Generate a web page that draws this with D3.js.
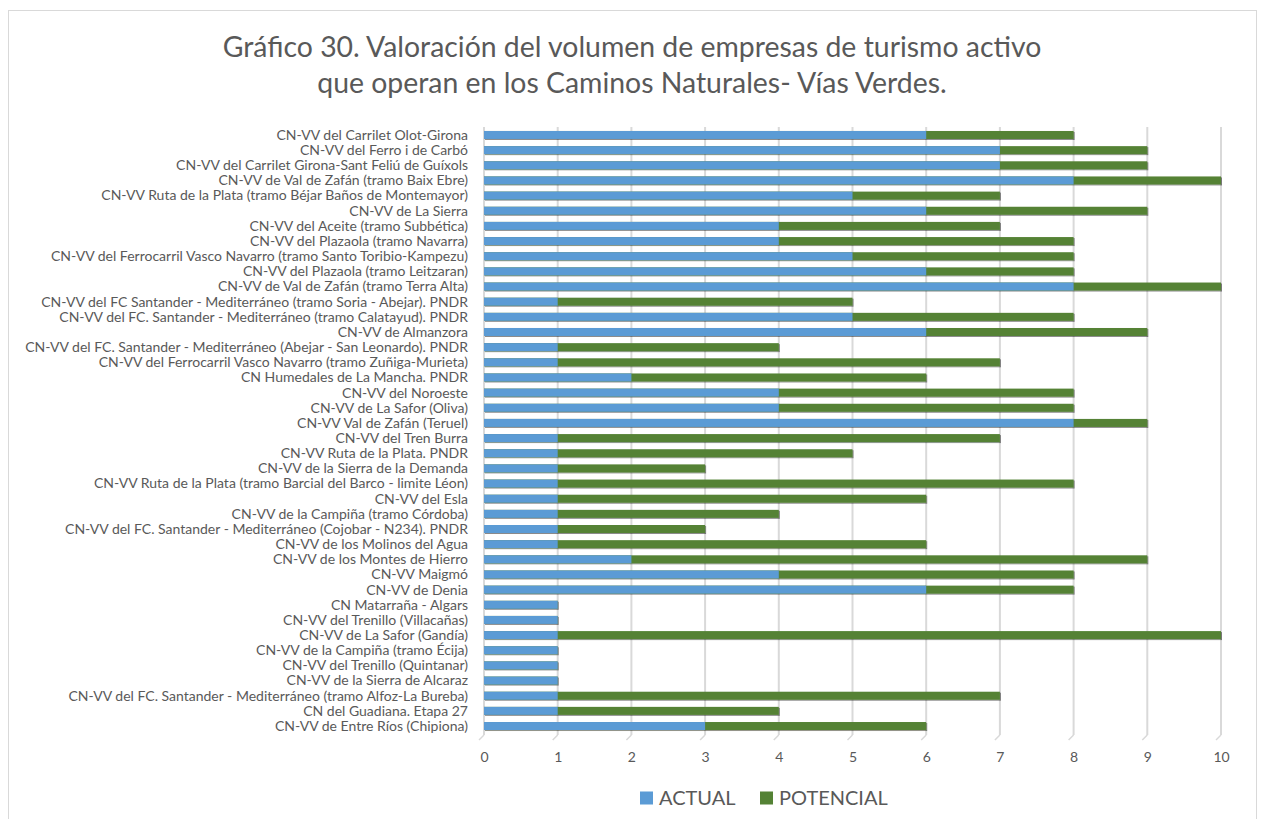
<!DOCTYPE html>
<html>
<head>
<meta charset="utf-8">
<script src="https://cdn.jsdelivr.net/npm/d3@7"></script>
<style>
  body { margin: 0; background: #fff; }
  svg text { font-family: Lato, "Open Sans", sans-serif; fill: #595959; }
</style>
</head>
<body>
<div class="plot"></div>
<script>
/* data */
const caminos = [
  "CN-VV del Carrilet Olot-Girona",
  "CN-VV del Ferro i de Carbó",
  "CN-VV del Carrilet Girona-Sant Feliú de Guíxols",
  "CN-VV de Val de Zafán (tramo Baix Ebre)",
  "CN-VV Ruta de la Plata (tramo Béjar Baños de Montemayor)",
  "CN-VV de La Sierra",
  "CN-VV del Aceite (tramo Subbética)",
  "CN-VV del Plazaola (tramo Navarra)",
  "CN-VV del Ferrocarril Vasco Navarro (tramo Santo Toribio-Kampezu)",
  "CN-VV del Plazaola (tramo Leitzaran) ",
  "CN-VV de Val de Zafán (tramo Terra Alta)",
  "CN-VV del FC Santander - Mediterráneo (tramo Soria - Abejar). PNDR",
  "CN-VV del FC. Santander - Mediterráneo (tramo Calatayud). PNDR",
  "CN-VV de Almanzora",
  "CN-VV del FC. Santander - Mediterráneo (Abejar - San Leonardo). PNDR",
  "CN-VV del Ferrocarril Vasco Navarro (tramo Zuñiga-Murieta)",
  "CN Humedales de La Mancha. PNDR",
  "CN-VV del Noroeste",
  "CN-VV de La Safor (Oliva)",
  "CN-VV Val de Zafán (Teruel)",
  "CN-VV del Tren Burra",
  "CN-VV Ruta de la Plata. PNDR",
  "CN-VV de la Sierra de la Demanda",
  "CN-VV Ruta de la Plata (tramo Barcial del Barco - limite Léon)",
  "CN-VV del Esla",
  "CN-VV de la Campiña (tramo Córdoba)",
  "CN-VV del FC. Santander - Mediterráneo (Cojobar - N234). PNDR",
  "CN-VV de los Molinos del Agua",
  "CN-VV de los Montes de Hierro",
  "CN-VV Maigmó",
  "CN-VV de Denia",
  "CN Matarraña - Algars",
  "CN-VV del Trenillo (Villacañas)",
  "CN-VV de La Safor (Gandía)",
  "CN-VV de la Campiña (tramo Écija)",
  "CN-VV del Trenillo (Quintanar)",
  "CN-VV de la Sierra de Alcaraz",
  "CN-VV del FC. Santander - Mediterráneo (tramo Alfoz-La Bureba)",
  "CN del Guadiana. Etapa 27 ",
  "CN-VV de Entre Ríos (Chipiona)"
];
const actual    = [6,7,7,8,5,6,4,4,5,6,8,1,5,6,1,1,2,4,4,8,1,1,1,1,1,1,1,1,2,4,6,1,1,1,1,1,1,1,1,3];
const potencial = [8,9,9,10,7,9,7,8,8,8,10,5,8,9,4,7,6,8,8,9,7,5,3,8,6,4,3,6,9,8,8,1,1,10,1,1,1,7,4,6];
const ticks = [0,1,2,3,4,5,6,7,8,9,10];
const series = ["ACTUAL", "POTENCIAL"];
const colors = ["#5B9BD5", "#548235"];
const titleLines = [
  "Gráfico 30. Valoración del volumen de empresas de turismo activo",
  "que operan en los Caminos Naturales- Vías Verdes."
];

const data = caminos.map((name, i) => ({name, actual: actual[i], potencial: potencial[i]}));

const W = 1262, H = 819;
const svg = d3.select(".plot").append("svg")
  .attr("width", W)
  .attr("height", H);

/* chart frame */
svg.append("rect")
  .attr("x", 8.5).attr("y", 10.5)
  .attr("width", 1248).attr("height", 830)
  .attr("fill", "#fff")
  .attr("stroke", "#d9d9d9");

/* title */
svg.append("g").selectAll("text")
  .data(titleLines)
  .join("text")
    .attr("x", 632)
    .attr("y", (d, i) => 57 + i * 36)
    .attr("text-anchor", "middle")
    .attr("font-size", 28.4)
    .text(d => d);

/* scales */
const x = d3.scaleLinear().domain([0, 10]).range([484, 1221]);
const y = d3.scalePoint().domain(caminos).range([127.4, 733.6]).padding(0.5);
const barH = 8;

/* vertical gridlines with little 3d feet */
const grid = svg.append("g");
grid.selectAll(".gl")
  .data(ticks)
  .join("line")
    .attr("x1", d => x(d)).attr("x2", d => x(d))
    .attr("y1", 127).attr("y2", 735)
    .attr("stroke", "#d9d9d9")
    .attr("stroke-width", 2);
grid.selectAll(".foot")
  .data(ticks)
  .join("line")
    .attr("x1", d => x(d)).attr("x2", d => x(d) - 5)
    .attr("y1", 735).attr("y2", 740)
    .attr("stroke", "#d9d9d9")
    .attr("stroke-width", 1.5);

/* x axis labels */
const xAxis = d3.axisBottom(x).tickValues(ticks).tickSize(0).tickPadding(0);
svg.append("g")
  .attr("transform", "translate(0,752)")
  .call(xAxis)
  .call(g => g.select(".domain").remove())
  .call(g => g.selectAll("text")
    .attr("font-size", 14)
    .attr("fill", "#595959")
    .attr("font-family", "Lato, sans-serif"));

/* category labels */
svg.append("g").selectAll("text")
  .data(caminos)
  .join("text")
    .attr("x", 468)
    .attr("y", d => y(d))
    .attr("dy", "0.35em")
    .attr("text-anchor", "end")
    .attr("font-size", 14)
    .text(d => d);

/* bars: potencial behind, actual in front */
const shadow = svg.append("defs").append("filter")
  .attr("id", "shade")
  .attr("x", "-5%").attr("y", "-50%").attr("width", "120%").attr("height", "200%");
shadow.append("feDropShadow")
  .attr("dx", 1).attr("dy", 1).attr("stdDeviation", 0.6)
  .attr("flood-color", "#000").attr("flood-opacity", 0.45);

const bars = svg.append("g");
bars.selectAll(".pot")
  .data(data)
  .join("rect")
    .attr("class", "pot")
    .attr("x", x(0))
    .attr("y", d => y(d.name) - barH / 2)
    .attr("width", d => x(d.potencial) - x(0))
    .attr("height", barH)
    .attr("fill", colors[1])
    .attr("filter", "url(#shade)");
bars.selectAll(".act")
  .data(data)
  .join("rect")
    .attr("class", "act")
    .attr("x", x(0))
    .attr("y", d => y(d.name) - barH / 2)
    .attr("width", d => x(d.actual) - x(0))
    .attr("height", barH)
    .attr("fill", colors[0]);

/* legend */
const legend = svg.append("g").attr("transform", "translate(640,798)");
const items = legend.selectAll("g")
  .data(series)
  .join("g")
    .attr("transform", (d, i) => `translate(${i * 120},0)`);
items.append("rect")
  .attr("x", 0).attr("y", -6.5)
  .attr("width", 13).attr("height", 13)
  .attr("fill", (d, i) => colors[i]);
items.append("text")
  .attr("x", 19)
  .attr("dy", "0.35em")
  .attr("font-size", 20)
  .text(d => d);
</script>
</body>
</html>
